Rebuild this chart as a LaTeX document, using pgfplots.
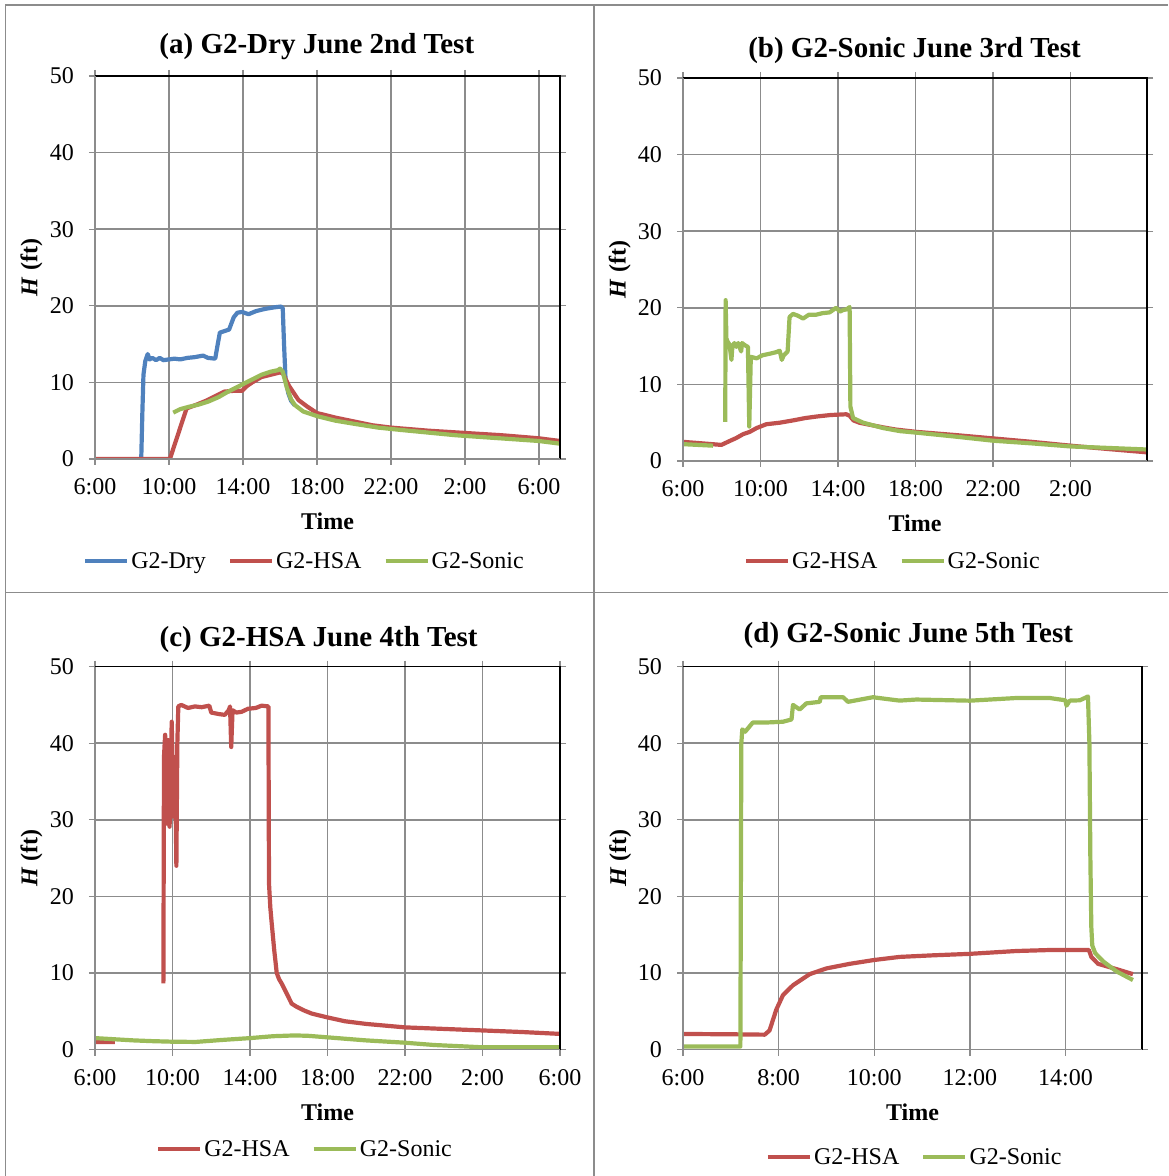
\documentclass[border=0pt]{standalone}
\usepackage{fontspec}
\setmainfont{Liberation Serif}
\usepackage{pgfplots}
\pgfplotsset{compat=1.18}
\definecolor{xblue}{HTML}{4F81BD}
\definecolor{xred}{HTML}{C0504D}
\definecolor{xgreen}{HTML}{9BBB59}
\definecolor{gridgray}{HTML}{8C8C8C}
\tikzset{
 sB/.style={xblue, line width=4.2pt, line join=round, line cap=butt},
 sR/.style={xred, line width=4.2pt, line join=round, line cap=butt},
 sG/.style={xgreen, line width=4.2pt, line join=round, line cap=butt},
}
\pgfplotsset{
 panel/.style={
  scale only axis, height=383pt,
  ymin=0, ymax=50, ytick={0,10,20,30,40,50},
  grid=major, grid style={draw=gridgray, line width=1.5pt},
  axis line style={draw=none},
  tick align=outside, major tick length=6pt,
  tick style={draw=gridgray, line width=1.3pt},
  tick label style={font=\fontsize{24}{28}\selectfont},
  /pgf/number format/assume math mode=true,
  xticklabel style={anchor=base, inner sep=0pt, yshift=-30pt},
  yticklabel style={anchor=east, inner sep=0pt, xshift=-15pt},
  xlabel={Time},
  xlabel style={at={(axis description cs:0.5,-0.185)}, anchor=base, font=\bfseries\fontsize{24}{28}\selectfont},
  ylabel={\textit{H} (ft)},
  ylabel style={at={(axis description cs:-0.1366,0.5)}, anchor=center, font=\bfseries\fontsize{24}{28}\selectfont},
  title style={anchor=base, font=\bfseries\fontsize{29}{34}\selectfont},
  legend columns=-1,
  legend style={anchor=west, draw=none, fill=none, inner sep=0pt,
    font=\fontsize{24}{28}\selectfont, nodes={inner sep=2pt},
    /tikz/every even column/.append style={column sep=20pt}},
  legend image code/.code={\draw[##1] (0pt,0pt) -- (42pt,0pt);},
  unbounded coords=jump,
  after end axis/.code={
    \draw[black, line width=1.5pt] (rel axis cs:0,1) -- (rel axis cs:1,1) -- (rel axis cs:1,0);
    \draw[gridgray, line width=1.5pt] (rel axis cs:0,1) -- (rel axis cs:0,0) -- (rel axis cs:1,0);
  },
 }
}
\begin{document}
\begin{tikzpicture}
\path[use as bounding box] (0pt,0pt) rectangle (1168pt,1176pt);
\draw[gridgray, line width=1.5pt] (5.5pt,0pt) -- (5.5pt,1171pt) -- (1168pt,1171pt);
\draw[gridgray, line width=1.5pt] (594pt,0pt) -- (594pt,1171pt);
\draw[gridgray, line width=1.5pt] (5.5pt,583.5pt) -- (1168pt,583.5pt);

% (a)
\begin{axis}[panel, at={(95pt,717pt)}, anchor=south west, width=465pt,
  xmin=6, xmax=31.14, xtick={6,10,14,18,22,26,30},
  xticklabels={6:00,10:00,14:00,18:00,22:00,2:00,6:00},
  title={(a) G2-Dry June 2nd Test},
  title style={at={(axis description cs:0.477,1.042)}},
  legend style={at={(axis description cs:-0.026,-0.266)}}]
\addplot[sB] coordinates {(8.50,0) (8.56,6) (8.62,11) (8.72,12.8) (8.85,13.7) (8.95,13.0) (9.1,13.2) (9.3,12.9) (9.5,13.2) (9.7,12.9) (10.0,13.0) (10.3,13.1) (10.6,13.0) (11.0,13.2) (11.4,13.3) (11.85,13.5) (12.1,13.2) (12.5,13.1) (12.6,14.5) (12.75,16.5) (13.0,16.7) (13.25,16.9) (13.5,18.5) (13.7,19.1) (13.95,19.2) (14.3,18.9) (14.7,19.3) (15.2,19.6) (15.7,19.8) (16.05,19.9) (16.15,19.7) (16.22,15) (16.3,10.5) (16.45,8.6) (16.6,7.6) (16.8,7.0)};
\addlegendentry{G2-Dry}
\addplot[sR] coordinates {(6,0) (10.05,0) (10.5,3.3) (10.95,6.6) (11.5,7.1) (12.0,7.6) (12.5,8.2) (13.0,8.8) (13.5,8.9) (13.95,8.9) (14.2,9.5) (14.5,10.0) (15.0,10.7) (15.5,11.0) (16.0,11.3) (16.15,11.2) (16.5,9.5) (17.0,7.7) (17.5,6.8) (18.0,6.0) (19.0,5.4) (20.0,4.9) (21.0,4.4) (22.0,4.1) (24.0,3.7) (26.0,3.4) (28.0,3.1) (30.0,2.7) (31.14,2.35)};
\addlegendentry{G2-HSA}
\addplot[sG] coordinates {(10.23,6.05) (10.6,6.5) (11.05,6.8) (11.6,7.1) (12.13,7.5) (12.7,8.1) (13.2,8.8) (13.7,9.4) (14.1,9.9) (14.6,10.5) (15.0,11.0) (15.5,11.4) (15.9,11.6) (16.0,11.8) (16.15,11.4) (16.36,9.4) (16.6,7.8) (16.8,7.05) (17.26,6.2) (18.0,5.6) (19.0,5.0) (20.0,4.6) (21.3,4.1) (22.5,3.8) (24.0,3.45) (25.5,3.1) (27.0,2.85) (28.5,2.6) (30.0,2.35) (31.14,2.0)};
\addlegendentry{G2-Sonic}
\end{axis}

% (b)
\begin{axis}[panel, at={(683pt,715pt)}, anchor=south west, width=464pt,
  xmin=6, xmax=29.95, xtick={6,10,14,18,22,26},
  xticklabels={6:00,10:00,14:00,18:00,22:00,2:00},
  title={(b) G2-Sonic June 3rd Test},
  title style={at={(axis description cs:0.499,1.038)}},
  legend style={at={(axis description cs:0.131,-0.262)}}]
\addplot[sR] coordinates {(6,2.5) (7.0,2.3) (7.98,2.1) (8.4,2.6) (8.75,3.0) (9.1,3.5) (9.44,3.8) (9.8,4.3) (10.3,4.8) (11.0,5.0) (11.68,5.3) (12.3,5.6) (12.88,5.8) (13.6,6.0) (14.43,6.1) (14.6,5.9) (14.8,5.3) (15.1,5.0) (15.7,4.7) (16.3,4.4) (17.0,4.1) (18.05,3.8) (20.0,3.4) (22.0,2.95) (24.0,2.5) (26.0,2.0) (28.0,1.55) (29.95,1.13)};
\addlegendentry{G2-HSA}
\addplot[sG] coordinates {(6,2.2) (7.55,2.0) (7.8,nan) (8.18,5.1) (8.2,21.0) (8.24,16.0) (8.3,15.6) (8.4,15.2) (8.5,13.2) (8.55,15.0) (8.65,15.4) (8.75,14.9) (8.85,15.4) (9.0,14.3) (9.05,15.4) (9.2,15.1) (9.35,14.9) (9.42,4.5) (9.5,13.6) (9.8,13.4) (10.1,13.8) (10.47,14.0) (10.8,14.2) (10.99,14.4) (11.1,13.2) (11.2,13.8) (11.4,14.3) (11.5,18.8) (11.68,19.2) (11.9,19.0) (12.2,18.6) (12.5,19.1) (12.88,19.1) (13.2,19.3) (13.57,19.4) (13.9,20.0) (14.1,19.5) (14.26,19.7) (14.45,19.8) (14.6,20.1) (14.64,7.1) (14.78,5.6) (15.3,5.0) (16.33,4.3) (17.2,3.9) (18.05,3.7) (20,3.2) (22.0,2.65) (24.0,2.3) (26.0,1.9) (28.0,1.7) (29.95,1.5)};
\addlegendentry{G2-Sonic}
\end{axis}

% (c)
\begin{axis}[panel, at={(95pt,126.4pt)}, anchor=south west, width=465pt,
  xmin=6, xmax=30, xtick={6,10,14,18,22,26,30},
  xticklabels={6:00,10:00,14:00,18:00,22:00,2:00,6:00},
  title={(c) G2-HSA June 4th Test},
  title style={at={(axis description cs:0.481,1.037)}},
  legend style={at={(axis description cs:0.131,-0.26)}}]
\addplot[sR] coordinates {(6,1.0) (7.03,1.0) (8,nan) (9.53,8.65) (9.56,38.2) (9.62,41.1) (9.7,29.5) (9.78,40.4) (9.85,29.1) (9.96,42.8) (10.05,30.4) (10.13,38.2) (10.2,24.0) (10.25,40) (10.3,44.8) (10.45,45.0) (10.8,44.6) (11.16,44.8) (11.5,44.7) (11.9,44.9) (12.0,44.0) (12.4,43.8) (12.7,43.7) (12.9,44.3) (12.97,44.8) (13.03,39.5) (13.1,44.3) (13.3,44.0) (13.57,44.1) (13.9,44.5) (14.3,44.6) (14.6,44.9) (14.95,44.8) (14.98,21.7) (15.05,18.5) (15.12,16.5) (15.25,13.0) (15.38,10.0) (15.5,9.2) (15.64,8.6) (15.9,7.3) (16.15,6.0) (16.4,5.6) (16.8,5.1) (17.19,4.7) (18.0,4.2) (18.9,3.7) (20.0,3.35) (22.0,2.9) (24.0,2.7) (26.0,2.5) (28.0,2.3) (30.0,2.05)};
\addlegendentry{G2-HSA}
\addplot[sG] coordinates {(6,1.5) (7,1.35) (8,1.2) (9,1.1) (10.0,1.03) (11.2,1.0) (12.5,1.25) (14.0,1.5) (15.2,1.75) (16.3,1.85) (17.0,1.8) (18.0,1.6) (19.0,1.4) (20.0,1.2) (22.0,0.9) (23.5,0.6) (25.2,0.4) (26.0,0.3) (30.0,0.3)};
\addlegendentry{G2-Sonic}
\end{axis}

% (d)
\begin{axis}[panel, at={(683pt,126.4pt)}, anchor=south west, width=459pt,
  xmin=6, xmax=15.6, xtick={6,8,10,12,14},
  xticklabels={6:00,8:00,10:00,12:00,14:00},
  title={(d) G2-Sonic June 5th Test},
  title style={at={(axis description cs:0.491,1.047)}},
  legend style={at={(axis description cs:0.18,-0.28)}}]
\addplot[sR] coordinates {(6,2.04) (7.0,2.0) (7.71,1.95) (7.81,2.5) (7.95,5.2) (8.09,7.1) (8.3,8.4) (8.65,9.85) (9.0,10.6) (9.49,11.2) (10.0,11.7) (10.53,12.1) (11.2,12.3) (12.0,12.5) (12.97,12.87) (13.67,13.0) (14.49,13.0) (14.54,12.1) (14.68,11.2) (15.07,10.5) (15.41,9.85)};
\addlegendentry{G2-HSA}
\addplot[sG] coordinates {(6,0.4) (7.2,0.4) (7.22,40) (7.24,41.8) (7.3,41.5) (7.46,42.7) (7.74,42.7) (8.09,42.8) (8.27,43.1) (8.3,45.0) (8.44,44.4) (8.58,45.2) (8.86,45.4) (8.88,46.0) (9.35,46.0) (9.45,45.4) (9.97,46.0) (10.53,45.56) (10.88,45.7) (12.0,45.55) (12.97,45.9) (13.67,45.9) (14.0,45.6) (14.02,44.9) (14.09,45.56) (14.3,45.6) (14.47,46.1) (14.5,40) (14.52,25) (14.54,16) (14.56,13.6) (14.62,12.6) (14.79,11.5) (15.07,10.2) (15.41,9.08)};
\addlegendentry{G2-Sonic}
\end{axis}
\end{tikzpicture}
\end{document}
